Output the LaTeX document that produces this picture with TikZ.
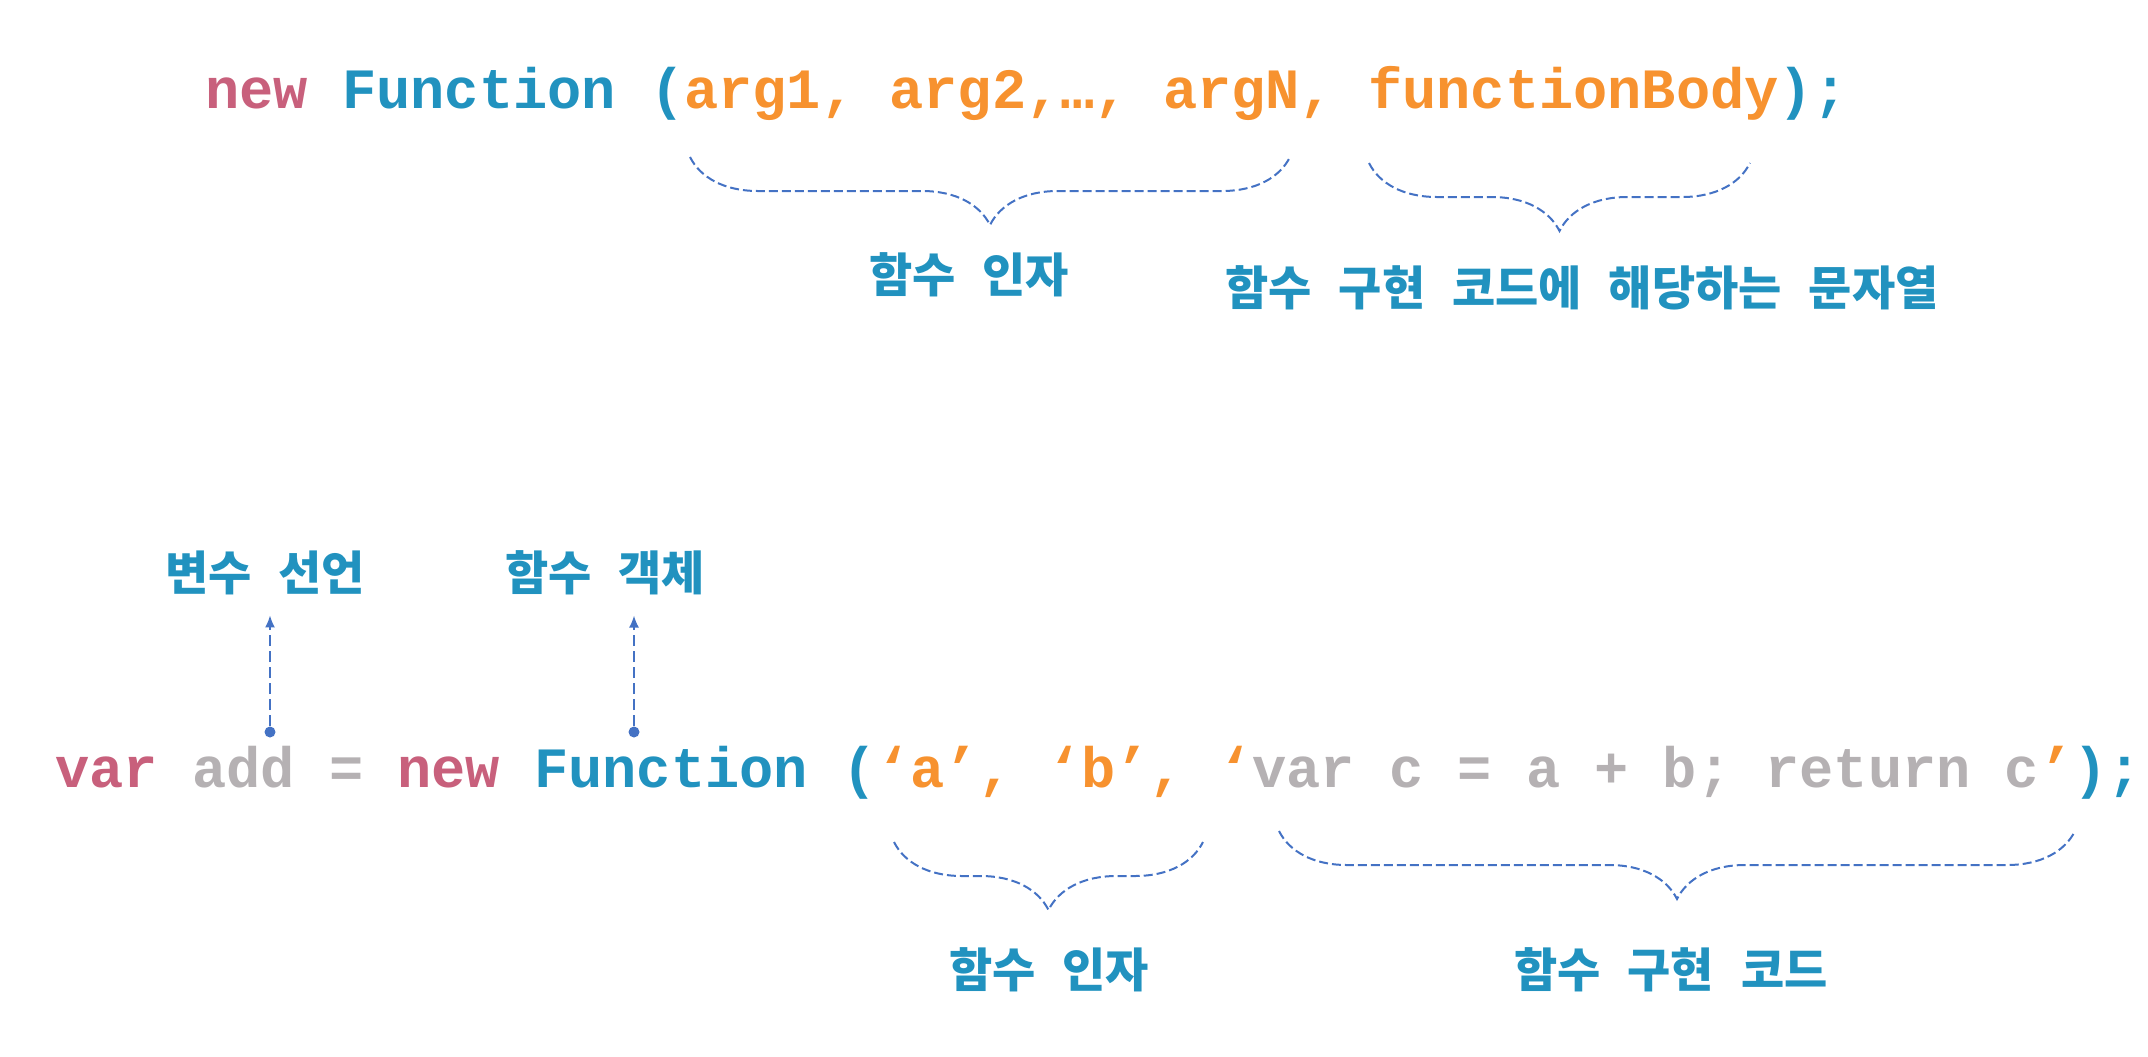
\documentclass[tikz,border=0pt]{standalone}
\usepackage{fontspec}
\usetikzlibrary{decorations.pathreplacing,arrows.meta}
\newfontfamily\codefont{Liberation Mono}
\newfontfamily\tagfont{Noto Sans CJK KR}[WordSpace=2.5]
\definecolor{kwpink}{HTML}{C8607C}
\definecolor{fnblue}{HTML}{2192BF}
\definecolor{argorange}{HTML}{F7922F}
\definecolor{codegray}{HTML}{B5B1B3}
\definecolor{lineblue}{HTML}{4472C4}
\frenchspacing

\begin{document}
\begin{tikzpicture}[
  x=0.5pt,
  y=-0.5pt,
  code/.style={anchor=base west,inner sep=0,font=\codefont\bfseries\fontsize{28.5}{34}\selectfont},
  tag/.style={inner sep=0,text=fnblue,font=\tagfont\bfseries\fontsize{23.5}{28}\selectfont},
  brace/.style={draw=lineblue,line width=1pt,dash pattern=on 4.5pt off 2pt,
    decorate,decoration={brace,mirror,amplitude=34pt}},
  pointer/.style={draw=lineblue,line width=0.8pt,dash pattern=on 5.5pt off 2.5pt,
    -{Latex[length=6pt,width=5pt]},shorten >=10pt},
  dot/.style={circle,fill=lineblue,inner sep=0,minimum size=5.5pt}
]

\def\pk#1{\textcolor{kwpink}{#1}}
\def\fb#1{\textcolor{fnblue}{#1}}
\def\og#1{\textcolor{argorange}{#1}}
\def\gy#1{\textcolor{codegray}{#1}}

\useasboundingbox (0,0) rectangle (2148,1056);

% syntax
\node[code] (syntax) at (205,108)
  {\pk{new} \fb{Function} \fb{(}\og{arg1, arg2,…, argN, functionBody}\fb{);}};

\coordinate (argsL) at (690,157);
\coordinate (argsR) at (1290,157);
\coordinate (bodyL) at (1369,163);
\coordinate (bodyR) at (1750,163);
\draw[brace] (argsL) -- (argsR);
\draw[brace] (bodyL) -- (bodyR);

\node[tag] (argsTag) at (969,275) {함수 인자};
\node[tag] (bodyTag) at (1582,288) {함수 구현 코드에 해당하는 문자열};

% example
\node[code] (example) at (55,787)
  {\pk{var} \gy{add =} \pk{new} \fb{Function} \fb{(}\og{‘a’, ‘b’, ‘}\gy{var c = a + b; return c}\og{’}\fb{);}};

\node[tag] (varTag) at (265,573) {변수 선언};
\node[tag] (objTag) at (605,573) {함수 객체};

\node[dot] (varDot) at (270,732) {};
\node[dot] (objDot) at (634,732) {};
\draw[pointer] (varDot) -- (varDot |- varTag.south);
\draw[pointer] (objDot) -- (objDot |- objTag.south);

\coordinate (exArgsL) at (894,842);
\coordinate (exArgsR) at (1203,842);
\coordinate (exBodyL) at (1279,831);
\coordinate (exBodyR) at (2075,831);
\draw[brace] (exArgsL) -- (exArgsR);
\draw[brace] (exBodyL) -- (exBodyR);

\node[tag] (exArgsTag) at (1049,970) {함수 인자};
\node[tag] (exBodyTag) at (1671,970) {함수 구현 코드};

\end{tikzpicture}
\end{document}
